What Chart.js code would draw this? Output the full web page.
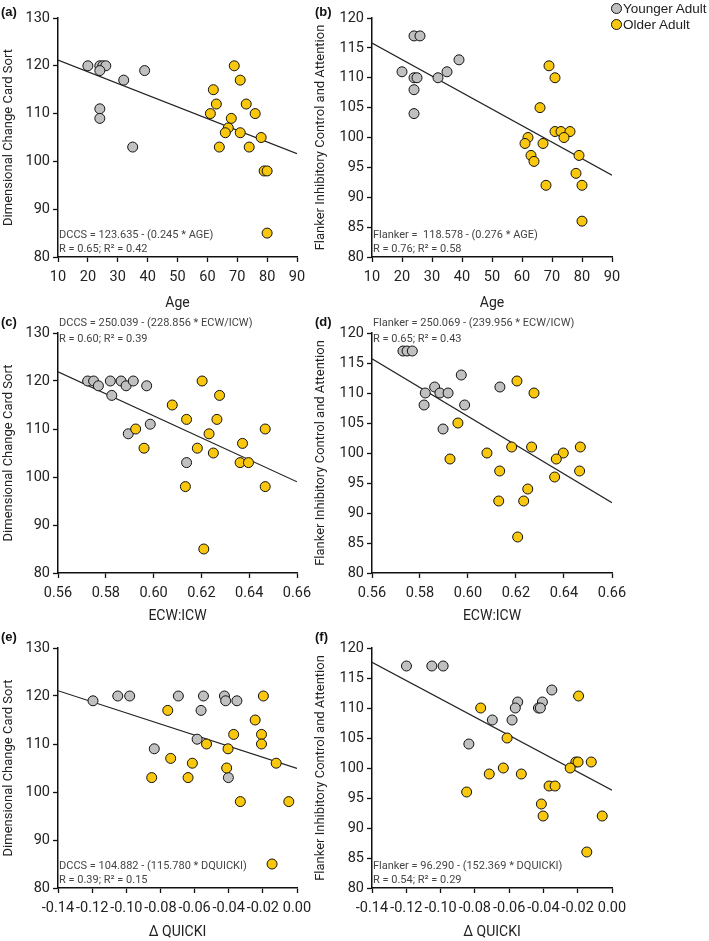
<!DOCTYPE html>
<html>
<head>
<meta charset="utf-8">
<title>DCCS / Flanker scatter panels</title>
<script src="https://cdn.jsdelivr.net/npm/chart.js@4.4.1/dist/chart.umd.min.js"></script>
<style>
  body { margin: 0; background: #fff; }
  #page { position: relative; width: 709px; height: 941px; overflow: hidden; }
  #page canvas { position: absolute; }
  .tag { position: absolute; font: bold 13px "Liberation Sans", Arial, sans-serif; color: #111; line-height: 16px; }
  #legend { position: absolute; left: 611px; top: 0; font: 13.5px "Liberation Sans", Arial, sans-serif; color: #222; }
  #legend .item { display: flex; align-items: center; height: 16px; }
  #legend .dot { width: 9px; height: 9px; border-radius: 50%; border: 1px solid #111; margin-right: 1px; }
</style>
</head>
<body>
<div id="page">
  <canvas id="chartA" width="340" height="312" style="left:0;top:0"></canvas>
  <canvas id="chartB" width="399" height="312" style="left:310px;top:0"></canvas>
  <canvas id="chartC" width="340" height="320" style="left:0;top:305px"></canvas>
  <canvas id="chartD" width="399" height="320" style="left:310px;top:305px"></canvas>
  <canvas id="chartE" width="340" height="321" style="left:0;top:620px"></canvas>
  <canvas id="chartF" width="399" height="321" style="left:310px;top:620px"></canvas>

  <div class="tag" style="left:1px;top:4px">(a)</div>
  <div class="tag" style="left:315px;top:4px">(b)</div>
  <div class="tag" style="left:1px;top:314px">(c)</div>
  <div class="tag" style="left:315px;top:314px">(d)</div>
  <div class="tag" style="left:1px;top:629px">(e)</div>
  <div class="tag" style="left:315px;top:629px">(f)</div>

  <div id="legend">
    <div class="item"><span class="dot" style="background:#c0c0c0"></span>Younger Adult</div>
    <div class="item"><span class="dot" style="background:#f9c80e"></span>Older Adult</div>
  </div>
</div>

<script>
// Tick values
const ageTicks = [10, 20, 30, 40, 50, 60, 70, 80, 90];
const ecwTicks = [0.56, 0.58, 0.60, 0.62, 0.64, 0.66];
const quickiTicks = [-0.14, -0.12, -0.10, -0.08, -0.06, -0.04, -0.02, 0.00];
const dccsTicks = [80, 90, 100, 110, 120, 130];
const flankerTicks = [80, 85, 90, 95, 100, 105, 110, 115, 120];

// (a) DCCS vs age
const ageDccsYounger = [[20,120],[24,120],[25,120],[26,120],[24,119],[24,111],[24,109],[32,117],[35,103],[39,119]];
const ageDccsOlder = [[69,120],[71,117],[62,115],[63,112],[73,112],[61,110],[76,110],[68,109],[67,107],[66,106],[71,106],[78,105],[64,103],[74,103],[79,98],[80,98],[80,85]];
const ageDccsFit = [[10,121.2],[90,101.6]];

// (b) Flanker vs age
const ageFlankerYounger = [[20,111],[24,117],[26,117],[24,110],[25,110],[24,108],[24,104],[32,110],[35,111],[39,113]];
const ageFlankerOlder = [[69,112],[71,110],[66,105],[71,101],[73,101],[76,101],[74,100],[62,100],[61,99],[67,99],[63,97],[64,96],[79,97],[78,94],[68,92],[80,92],[80,86]];
const ageFlankerFit = [[10,115.8],[90,93.7]];

// (c) DCCS vs ECW:ICW
const ecwDccsYounger = [[0.5724,120],[0.5749,120],[0.5769,119],[0.5819,120],[0.5825,117],[0.5864,120],[0.5885,119],[0.5915,120],[0.5971,119],[0.5894,109],[0.5986,111],[0.6138,103]];
const ecwDccsOlder = [[0.6203,120],[0.6276,117],[0.6078,115],[0.6138,112],[0.6265,112],[0.5925,110],[0.6467,110],[0.6232,109],[0.6372,107],[0.5960,106],[0.6183,106],[0.6250,105],[0.6362,103],[0.6397,103],[0.6133,98],[0.6467,98],[0.6210,85]];
const ecwDccsFit = [[0.56,121.9],[0.66,99.0]];

// (d) Flanker vs ECW:ICW
const ecwFlankerYounger = [[0.5729,117],[0.5746,117],[0.5768,117],[0.5972,113],[0.5861,111],[0.6133,111],[0.5822,110],[0.5883,110],[0.5917,110],[0.5817,108],[0.5986,108],[0.5896,104]];
const ecwFlankerOlder = [[0.6204,112],[0.6275,110],[0.5958,105],[0.6182,101],[0.6265,101],[0.6468,101],[0.6079,100],[0.6397,100],[0.5925,99],[0.6368,99],[0.6132,97],[0.6465,97],[0.6361,96],[0.6249,94],[0.6128,92],[0.6232,92],[0.6207,86]];
const ecwFlankerFit = [[0.56,115.7],[0.66,91.7]];

// (e) DCCS vs delta QUICKI
const quickiDccsYounger = [[-0.1195,119],[-0.105,120],[-0.098,120],[-0.0695,120],[-0.0548,120],[-0.0562,117],[-0.0425,120],[-0.0418,119],[-0.0352,119],[-0.0585,111],[-0.0836,109],[-0.0402,103]];
const quickiDccsOlder = [[-0.0197,120],[-0.0757,117],[-0.0245,115],[-0.0371,112],[-0.0208,112],[-0.0208,110],[-0.0530,110],[-0.0404,109],[-0.0740,107],[-0.0613,106],[-0.0122,106],[-0.0412,105],[-0.0851,103],[-0.0638,103],[-0.0332,98],[-0.0048,98],[-0.0146,85]];
const quickiDccsFit = [[-0.14,121.1],[0,104.9]];

// (f) Flanker vs delta QUICKI
const quickiFlankerYounger = [[-0.1199,117],[-0.1051,117],[-0.0985,117],[-0.0351,113],[-0.0550,111],[-0.0564,110],[-0.0406,111],[-0.0429,110],[-0.0418,110],[-0.0698,108],[-0.0583,108],[-0.0835,104]];
const quickiFlankerOlder = [[-0.0195,112],[-0.0766,110],[-0.0612,105],[-0.0211,101],[-0.0198,101],[-0.0121,101],[-0.0244,100],[-0.0634,100],[-0.0716,99],[-0.0529,99],[-0.0367,97],[-0.0332,97],[-0.0848,96],[-0.0412,94],[-0.0402,92],[-0.0057,92],[-0.0147,86]];
const quickiFlankerFit = [[-0.14,117.6],[0,96.3]];

document.addEventListener('DOMContentLoaded', function() {
    const YOUNGER = '#c0c0c0';
    const OLDER = '#f9c80e';
    const INK = '#222';

    Chart.defaults.font.family = 'Roboto, "Liberation Sans", sans-serif';
    Chart.defaults.color = INK;

    // Regression equation text in the corner of the plot
    const eqnPlugin = {
        id: 'eqn',
        afterDraw(chart, args, opts) {
            const ctx = chart.ctx;
            const area = chart.chartArea;
            const ys = opts.at === 'top' ? [area.top - 10, area.top + 6] : [area.bottom - 22, area.bottom - 8];
            ctx.save();
            ctx.font = '11px Roboto, sans-serif';
            ctx.fillStyle = '#444';
            ctx.textBaseline = 'middle';
            ctx.textAlign = 'left';
            opts.lines.forEach(function(line, i) {
                ctx.fillText(line, area.left + 1, ys[i]);
            });
            ctx.restore();
        }
    };

    function toPts(arr) {
        return arr.map(function(p) { return { x: p[0], y: p[1] }; });
    }

    function fmt2(v) {
        return Math.abs(v) < 1e-9 ? '0.00' : v.toFixed(2);
    }

    function makePanel(id, cfg) {
        const left = cfg.side === 'left';
        new Chart(document.getElementById(id), {
            type: 'scatter',
            data: {
                datasets: [
                    { label: 'Older Adult', data: toPts(cfg.older), backgroundColor: OLDER, borderColor: '#111', borderWidth: 1, pointRadius: 5, order: 1 },
                    { label: 'Younger Adult', data: toPts(cfg.younger), backgroundColor: YOUNGER, borderColor: '#111', borderWidth: 1, pointRadius: 5, order: 2 },
                    { label: 'fit', data: toPts(cfg.fit), showLine: true, borderColor: INK, borderWidth: 1.2, pointRadius: 0, order: 3 }
                ]
            },
            options: {
                responsive: false,
                animation: false,
                events: [],
                // right padding is wide on the left column so the last tick label does not shrink the plot
                layout: { padding: { top: cfg.padTop, right: left ? 43 : 97, bottom: 0, left: 0 } },
                plugins: {
                    legend: { display: false },
                    tooltip: { enabled: false },
                    eqn: { lines: cfg.eqn, at: cfg.eqnAt }
                },
                scales: {
                    x: {
                        type: 'linear',
                        min: cfg.xTicks[0],
                        max: cfg.xTicks[cfg.xTicks.length - 1],
                        afterBuildTicks: function(s) { s.ticks = cfg.xTicks.map(function(v) { return { value: v }; }); },
                        afterFit: function(s) { s.height = cfg.xHeight; },
                        ticks: { font: { size: 14.5 }, color: INK, padding: 7, autoSkip: false, maxRotation: 0, callback: cfg.xFmt },
                        grid: { drawOnChartArea: false, color: '#111', tickLength: 5, tickWidth: 1.3 },
                        border: { color: '#111', width: 1.5 },
                        title: { display: true, text: cfg.xTitle, font: { size: 14 }, color: INK, padding: { top: 0, bottom: 0 } }
                    },
                    y: {
                        min: cfg.yTicks[0],
                        max: cfg.yTicks[cfg.yTicks.length - 1],
                        afterBuildTicks: function(s) { s.ticks = cfg.yTicks.map(function(v) { return { value: v }; }); },
                        afterFit: function(s) { s.width = left ? 58 : 62; },
                        ticks: { font: { size: 14.5 }, color: INK, padding: 3 },
                        grid: { drawOnChartArea: false, color: '#111', tickLength: 5, tickWidth: 1.3 },
                        border: { color: '#111', width: 1.5 },
                        title: { display: true, text: cfg.yTitle, font: { size: 13 }, color: INK, padding: { top: left ? 1 : 3, bottom: 0 } }
                    }
                }
            },
            plugins: [eqnPlugin]
        });
    }

    const dccsTitle = 'Dimensional Change Card Sort';
    const flankerTitle = 'Flanker Inhibitory Control and Attention';
    const ageFmt = function(v) { return String(v); };

    // Row 1: age
    makePanel('chartA', { side: 'left', padTop: 18, xHeight: 55, xTicks: ageTicks, yTicks: dccsTicks, xFmt: ageFmt,
        xTitle: 'Age', yTitle: dccsTitle, younger: ageDccsYounger, older: ageDccsOlder, fit: ageDccsFit,
        eqn: ['DCCS = 123.635 - (0.245 * AGE)', 'R = 0.65; R\u00b2 = 0.42'], eqnAt: 'bottom' });
    makePanel('chartB', { side: 'right', padTop: 18, xHeight: 55, xTicks: ageTicks, yTicks: flankerTicks, xFmt: ageFmt,
        xTitle: 'Age', yTitle: flankerTitle, younger: ageFlankerYounger, older: ageFlankerOlder, fit: ageFlankerFit,
        eqn: ['Flanker =  118.578 - (0.276 * AGE)', 'R = 0.76; R\u00b2 = 0.58'], eqnAt: 'bottom' });

    // Row 2: ECW:ICW
    makePanel('chartC', { side: 'left', padTop: 28, xHeight: 52, xTicks: ecwTicks, yTicks: dccsTicks, xFmt: fmt2,
        xTitle: 'ECW:ICW', yTitle: dccsTitle, younger: ecwDccsYounger, older: ecwDccsOlder, fit: ecwDccsFit,
        eqn: ['DCCS = 250.039 - (228.856 * ECW/ICW)', 'R = 0.60; R\u00b2 = 0.39'], eqnAt: 'top' });
    makePanel('chartD', { side: 'right', padTop: 28, xHeight: 52, xTicks: ecwTicks, yTicks: flankerTicks, xFmt: fmt2,
        xTitle: 'ECW:ICW', yTitle: flankerTitle, younger: ecwFlankerYounger, older: ecwFlankerOlder, fit: ecwFlankerFit,
        eqn: ['Flanker = 250.069 - (239.956 * ECW/ICW)', 'R = 0.65; R\u00b2 = 0.43'], eqnAt: 'top' });

    // Row 3: delta QUICKI
    makePanel('chartE', { side: 'left', padTop: 28, xHeight: 53, xTicks: quickiTicks, yTicks: dccsTicks, xFmt: fmt2,
        xTitle: '\u0394 QUICKI', yTitle: dccsTitle, younger: quickiDccsYounger, older: quickiDccsOlder, fit: quickiDccsFit,
        eqn: ['DCCS = 104.882 - (115.780 * DQUICKI)', 'R = 0.39; R\u00b2 = 0.15'], eqnAt: 'bottom' });
    makePanel('chartF', { side: 'right', padTop: 28, xHeight: 53, xTicks: quickiTicks, yTicks: flankerTicks, xFmt: fmt2,
        xTitle: '\u0394 QUICKI', yTitle: flankerTitle, younger: quickiFlankerYounger, older: quickiFlankerOlder, fit: quickiFlankerFit,
        eqn: ['Flanker = 96.290 - (152.369 * DQUICKI)', 'R = 0.54; R\u00b2 = 0.29'], eqnAt: 'bottom' });
});
</script>
</body>
</html>
